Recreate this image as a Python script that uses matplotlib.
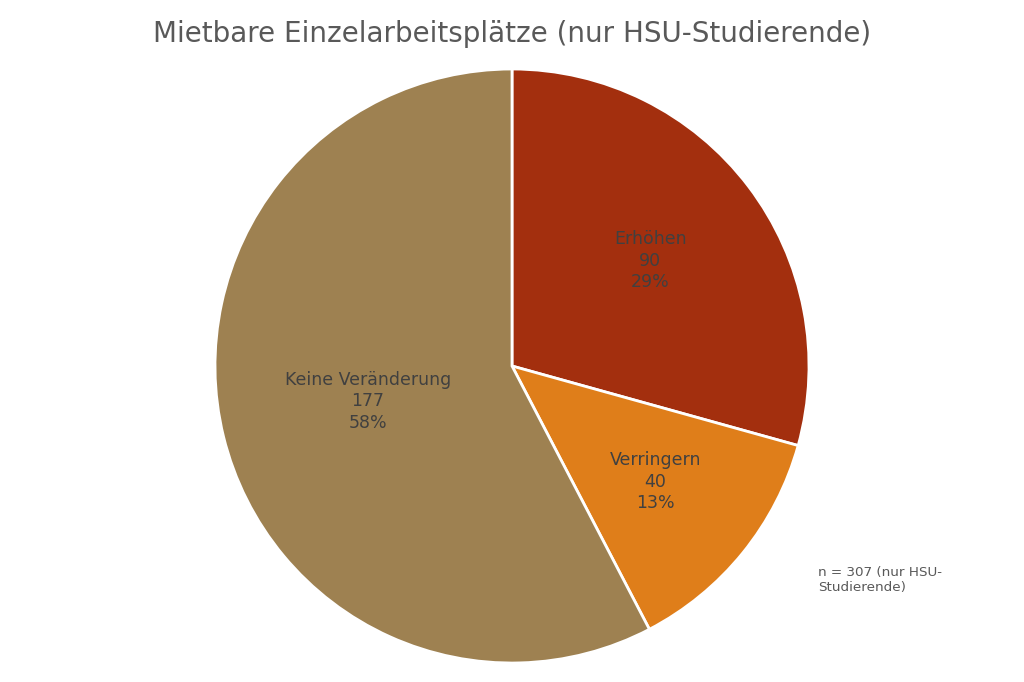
import matplotlib
matplotlib.use("Agg")
import matplotlib.pyplot as plt
import numpy as np

# data
labels = ["Erhöhen", "Verringern", "Keine Veränderung"]
counts = [90, 40, 177]
percents = ["29%", "13%", "58%"]
colors = ["#A32F0E", "#DF7E1A", "#9E8151"]
label_dist = [0.585, 0.62, 0.50]

plt.rcParams['font.family'] = ['DejaVu Sans']

fig = plt.figure(figsize=(10.24, 6.82), dpi=100)
fig.patch.set_facecolor("white")

# axes placed so the pie sits where it does in the original
ax = fig.add_axes([215/1024, 19/682, 594/1024, 594/682])
wedges, _ = ax.pie(counts, colors=colors, startangle=90, counterclock=False,
                   radius=1, wedgeprops=dict(edgecolor="white", linewidth=2))
ax.set_xlim(-1, 1)
ax.set_ylim(-1, 1)
ax.set_aspect("equal")
ax.axis("off")

# labels inside the slices: name, count, percent
for w, lab, n, p, d in zip(wedges, labels, counts, percents, label_dist):
    ang = np.deg2rad((w.theta1 + w.theta2) / 2)
    ax.text(d * np.cos(ang), d * np.sin(ang), "%s\n%d\n%s" % (lab, n, p),
            ha="center", va="center", fontsize=12.5, color="#404040",
            linespacing=1.25)

fig.text(0.5, 1 - 34/682, "Mietbare Einzelarbeitsplätze (nur HSU-Studierende)",
         ha="center", va="center", fontsize=20, color="#595959")
fig.text(818/1024, 1 - 566/682, "n = 307 (nur HSU-\nStudierende)",
         ha="left", va="top", fontsize=9.7, color="#595959", linespacing=1.2)

fig.savefig("out.png", dpi=100)
